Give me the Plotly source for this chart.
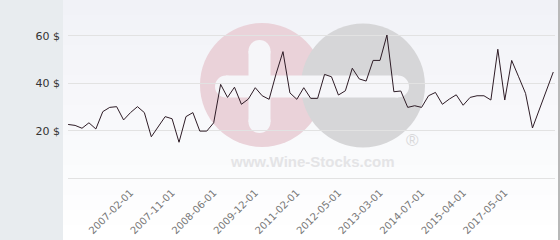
import plotly.graph_objects as go

dates = [
    "2006-03-01", "2006-04-01", "2006-05-01", "2006-07-01", "2006-08-01", "2006-09-01",
    "2006-10-01", "2006-11-01", "2007-01-01", "2007-02-01", "2007-03-01", "2007-05-01",
    "2007-06-01", "2007-08-01", "2007-09-01", "2007-11-01", "2007-12-01", "2008-01-01",
    "2008-02-01", "2008-04-01", "2008-05-01", "2008-06-01", "2008-09-01", "2008-12-01",
    "2009-03-01", "2009-06-01", "2009-09-01", "2009-12-01", "2010-02-01", "2010-04-01",
    "2010-06-01", "2010-09-01", "2010-11-01", "2011-02-01", "2011-05-01", "2011-08-01",
    "2011-10-01", "2011-12-01", "2012-03-01", "2012-05-01", "2012-07-01", "2012-09-01",
    "2012-10-01", "2012-12-01", "2013-01-01", "2013-03-01", "2013-05-01", "2013-07-01",
    "2013-10-01", "2014-01-01", "2014-04-01", "2014-07-01", "2014-09-01", "2014-10-01",
    "2014-12-01", "2015-01-01", "2015-03-01", "2015-04-01", "2015-07-01", "2015-11-01",
    "2016-02-01", "2016-06-01", "2016-11-01", "2017-05-01", "2017-09-01", "2018-01-01",
    "2018-05-01", "2018-09-01", "2019-01-01", "2019-05-01", "2019-09-01",
]

prices = [
    22.7, 22.3, 21.1, 23.4, 20.8, 28.1, 29.9, 30.2, 24.6, 27.7,
    30.2, 27.7, 17.5, 21.8, 26.0, 25.1, 15.2, 26.0, 27.7, 19.9,
    19.9, 23.4, 39.6, 34.1, 38.4, 31.2, 33.4, 38.2, 34.8, 33.3,
    44.0, 53.4, 36.0, 33.3, 38.2, 33.7, 33.7, 43.8, 42.8, 35.1,
    36.9, 46.4, 41.9, 41.0, 49.7, 49.7, 60.4, 36.5, 36.8, 29.9,
    30.6, 29.9, 34.8, 36.2, 31.2, 33.4, 35.2, 30.8, 34.1, 34.8,
    34.8, 33.0, 54.4, 33.0, 49.7, 42.8, 35.8, 21.2, 28.8, 36.5, 44.8,
]

x_tick_labels = ["2007-02-01", "2007-11-01", "2008-06-01", "2009-12-01", "2011-02-01",
                 "2012-05-01", "2013-03-01", "2014-07-01", "2015-04-01", "2017-05-01"]
y_tick_values = [0, 20, 40, 60]
y_tick_labels = ["", "20 $", "40 $", "60 $"]

W, H = 560, 240
L, R, T, B = 68, 5, 0, 60
PW, PH = W - L - R, H - T - B
UNIT = 2.372  # px per dollar
Y_LOW = -(PH - 178.3) / UNIT
Y_HIGH = Y_LOW + PH / UNIT


def px(x):
    return (x - L) / PW


def py(y):
    return (H - B - y) / PH


shapes = []
# left grey panel
shapes.append(dict(type="rect", xref="paper", yref="paper", x0=px(0), x1=px(63),
                   y0=py(240), y1=py(0), fillcolor="#e8ecef", line_width=0, layer="below"))
# gradient background bands
n = 16
c0 = (241, 242, 247)
c1 = (255, 255, 255)
for i in range(n):
    t = i / (n - 1)
    c = tuple(round(c0[k] + (c1[k] - c0[k]) * t) for k in range(3))
    y0 = 240 * i / n
    y1 = 240 * (i + 1) / n
    shapes.append(dict(type="rect", xref="paper", yref="paper", x0=px(63), x1=px(558),
                       y0=py(y1), y1=py(y0), fillcolor="rgb(%d,%d,%d)" % c,
                       line_width=0, layer="below"))


def circle(cx, cy, r, color):
    shapes.append(dict(type="circle", xref="paper", yref="paper",
                       x0=px(cx - r), x1=px(cx + r), y0=py(cy + r), y1=py(cy - r),
                       fillcolor=color, line_width=0, layer="below"))


def rect(x0, y0, x1, y1, color):
    shapes.append(dict(type="rect", xref="paper", yref="paper",
                       x0=px(x0), x1=px(x1), y0=py(y1), y1=py(y0),
                       fillcolor=color, line_width=0, layer="below"))


# watermark
circle(262, 85, 62, "#ead2d9")
circle(363, 85.5, 62, "#d6d6d8")
bar = "#f6f6f9"
r = 11
rect(248.5, 40 + r, 270.5, 133 - r, bar)
circle(259.5, 40 + r, r, bar)
circle(259.5, 133 - r, r, bar)
rect(215 + r, 75.5, 409 - r, 97.5, bar)
circle(215 + r, 86.5, r, bar)
circle(409 - r, 86.5, r, bar)
# right border line
shapes.append(dict(type="line", xref="paper", yref="paper", x0=px(559), x1=px(559),
                   y0=py(240), y1=py(0), line=dict(color="#a0a0a0", width=1.5), layer="above"))

annotations = [
    dict(text="<b>www.Wine-Stocks.com</b>", xref="paper", yref="paper", x=px(312), y=py(161),
         showarrow=False, font=dict(family="Liberation Sans", size=15, color="#e4e4e6"),
         xanchor="center", yanchor="middle"),
    dict(text="®", xref="paper", yref="paper", x=px(412), y=py(140),
         showarrow=False, font=dict(family="Liberation Sans", size=17, color="#d8d8da"),
         xanchor="center", yanchor="middle"),
]

fig = go.Figure()
fig.add_trace(go.Scatter(x=dates, y=prices, mode="lines",
                         line=dict(color="#2e1c26", width=1), hoverinfo="skip"))

fig.update_layout(
    width=W, height=H,
    margin=dict(l=L, r=R, t=T, b=B, pad=0),
    paper_bgcolor="white",
    plot_bgcolor="rgba(0,0,0,0)",
    showlegend=False,
    shapes=shapes,
    annotations=annotations,
    font=dict(family="DejaVu Sans"),
    xaxis=dict(type="category", range=[-0.02, 70.25], tickmode="array",
               tickvals=x_tick_labels, ticktext=x_tick_labels, tickangle=-45,
               showgrid=False, showline=False, zeroline=False, ticks="",
               tickfont=dict(size=10, color="#777777"), ticklabelstandoff=4),
    yaxis=dict(range=[Y_LOW, Y_HIGH], tickmode="array", tickvals=y_tick_values,
               ticktext=y_tick_labels, showgrid=True, gridcolor="#e2e2e2", gridwidth=1,
               zeroline=False, showline=False, ticks="",
               tickfont=dict(size=11, color="#333333"), ticklabelstandoff=7),
)

fig.write_html("out.html")
